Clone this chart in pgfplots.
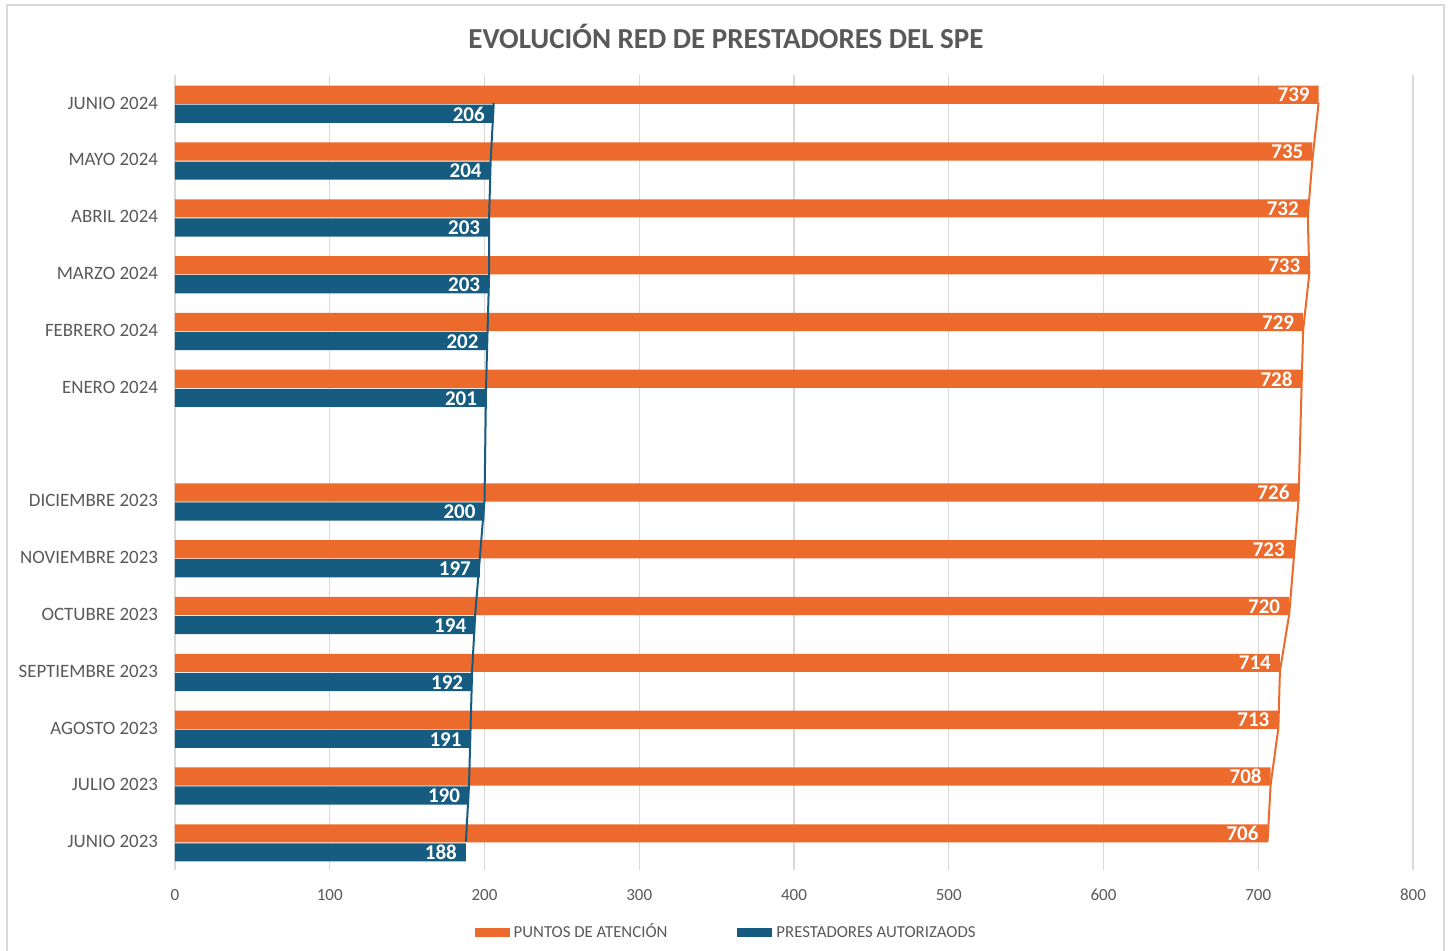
\documentclass[border=0pt]{standalone}
\usepackage{pgfplots}
\pgfplotsset{compat=1.18}
\usepackage{fontspec}
\setmainfont{Carlito}
\definecolor{naranja}{HTML}{EC6A2C}
\definecolor{azul}{HTML}{155C80}
\definecolor{gristxt}{HTML}{595959}
\definecolor{grilla}{HTML}{D9D9D9}
\begin{document}
\begin{tikzpicture}
\useasboundingbox (-87.5pt,-40.5pt) rectangle (638pt,435pt);
\draw[grilla, line width=0.6pt] (-84pt,-45pt) rectangle (634.5pt,432.5pt);
\node[font=\bfseries\fontsize{14.5}{16}\selectfont, text=gristxt] at (275.5pt,417pt) {EVOLUCIÓN RED DE PRESTADORES DEL SPE};
\begin{axis}[
  scale only axis,
  width=619pt, height=397.7pt,
  xmin=0, xmax=800, ymin=-0.5, ymax=13.5,
  xtick={0,100,...,800},
  ytick={0,1,2,3,4,5,6,8,9,10,11,12,13},
  yticklabels={JUNIO 2023,JULIO 2023,AGOSTO 2023,SEPTIEMBRE 2023,OCTUBRE 2023,NOVIEMBRE 2023,DICIEMBRE 2023,ENERO 2024,FEBRERO 2024,MARZO 2024,ABRIL 2024,MAYO 2024,JUNIO 2024},
  major tick length=0pt,
  axis line style={draw=none},
  xmajorgrids, grid style={grilla, line width=0.6pt},
  /pgf/number format/assume math mode=true,
  tick label style={text=gristxt},
  xticklabel style={font=\fontsize{8.5}{10}\selectfont, yshift=-6pt},
  yticklabel style={font=\fontsize{9.45}{11}\selectfont, xshift=-5pt},
  legend columns=2,
  legend style={at={(0.446,-0.078)}, anchor=center, draw=none, fill=none,
    font=\fontsize{8.4}{10}\selectfont, text=gristxt,
    nodes={text height=7pt, text depth=1.5pt},
    /tikz/every even column/.append style={column sep=33pt}},
  legend image code/.code={\fill[#1] (0pt,-2.4pt) rectangle (17.5pt,2pt);},
]
\addplot[xbar, bar width=0.32, bar shift=0.145, draw=none, fill=naranja,
  nodes near coords,
  nodes near coords style={anchor=east, text=white, font=\bfseries\fontsize{10.5}{12}\selectfont, xshift=-1pt, yshift=4pt}] coordinates {
(706,0) (708,1) (713,2) (714,3) (720,4) (723,5) (726,6)
(728,8) (729,9) (733,10) (732,11) (735,12) (739,13)
};
\addlegendentry{PUNTOS DE ATENCIÓN}
\addplot[xbar, bar width=0.32, bar shift=-0.19, draw=none, fill=azul,
  nodes near coords,
  nodes near coords style={anchor=east, text=white, font=\bfseries\fontsize{10.5}{12}\selectfont, xshift=-1pt, yshift=-5.6pt}] coordinates {
(188,0) (190,1) (191,2) (192,3) (194,4) (197,5) (200,6)
(201,8) (202,9) (203,10) (203,11) (204,12) (206,13)
};
\addlegendentry{PRESTADORES AUTORIZAODS}
\addplot[sharp plot, no marks, draw=naranja, line width=1pt, forget plot] coordinates {
(706,0) (708,1) (713,2) (714,3) (720,4) (723,5) (726,6)
(728,8) (729,9) (733,10) (732,11) (735,12) (739,13)
};
\addplot[sharp plot, no marks, draw=azul, line width=1pt, forget plot] coordinates {
(188,0) (190,1) (191,2) (192,3) (194,4) (197,5) (200,6)
(201,8) (202,9) (203,10) (203,11) (204,12) (206,13)
};
\end{axis}
\end{tikzpicture}
\end{document}
